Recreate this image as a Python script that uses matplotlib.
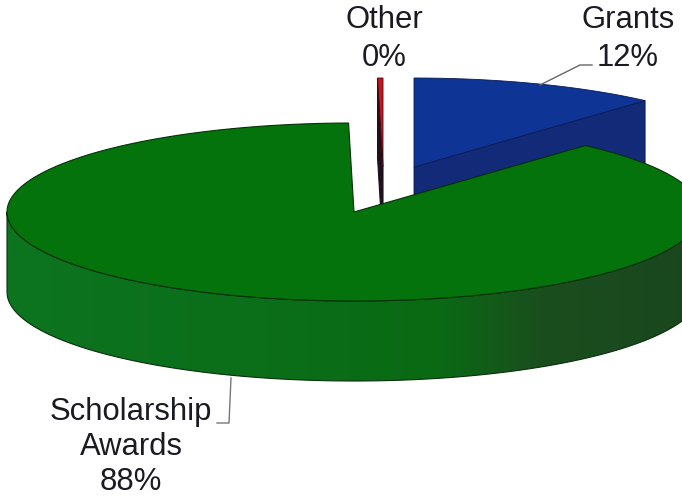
import numpy as np
import matplotlib
matplotlib.use("Agg")
import matplotlib.pyplot as plt
from matplotlib.patches import Polygon, PathPatch
from matplotlib.path import Path
from matplotlib.colors import LinearSegmentedColormap

# Data
categories = ["Grants", "Scholarship\nAwards", "Other"]
shares = [11.6, 88.15, 0.25]        # wedge sizes as drawn
pct_labels = ["12%", "88%", "0%"]   # printed labels

# Styles
top_colors = ["#0E3596", "#05730C", "#C8141E"]
cut_colors = ["#122A78", "#06600A", "#20101A"]
side_stops = [(0.0, "#0D7420"), (0.62, "#0A6A14"), (0.77, "#1A4E1E"), (1.0, "#1B461E")]
RX, RY, DEPTH = 347, 89, 80
centers = [(414, 167), (354, 212), (383, 167)]
START = 90

plt.rcParams["font.family"] = ["Liberation Sans", "DejaVu Sans"]
fig = plt.figure(figsize=(6.82, 4.97), dpi=100)
ax = fig.add_axes([0, 0, 1, 1])
ax.set_xlim(0, 682)
ax.set_ylim(497, 0)
ax.axis("off")

def arc(c, t0, t1, n=200, dy=0):
    t = np.radians(np.linspace(t0, t1, n))
    return np.column_stack([c[0] + RX * np.cos(t), c[1] - RY * np.sin(t) + dy])

# wedge angles, clockwise from the top
ends = START - np.cumsum(shares) * 3.6
starts = np.concatenate([[START], ends[:-1]])
angles = list(zip(starts, ends))

def cut_face(c, t):
    p = arc(c, t, t, 1)[0]
    return [c, tuple(p), (p[0], p[1] + DEPTH), (c[0], c[1] + DEPTH)]

# Grants
c, (a0, a1) = centers[0], angles[0]
ax.add_patch(Polygon(cut_face(c, a1), closed=True, fc=cut_colors[0], ec="#0A1A50", lw=0.6, zorder=2))
ax.add_patch(Polygon(np.vstack([[c], arc(c, a0, a1)]), closed=True, fc=top_colors[0], ec="#0A1A50", lw=0.6, zorder=3))
# Other
c, (a0, a1) = centers[2], angles[2]
ax.add_patch(Polygon(cut_face(c, a0), closed=True, fc=cut_colors[2], ec="#1A1020", lw=0.8, zorder=2))
ax.add_patch(Polygon(np.vstack([[c], arc(c, a0, a1, 10)]), closed=True, fc=top_colors[2],
                     ec="#3A0A14", lw=0.6, zorder=3))

# Scholarship side band with shading
c, (a0, a1) = centers[1], angles[1]
upper = arc(c, 180, 360)
lower = arc(c, 360, 180, dy=DEPTH)
band = Path(np.vstack([upper, lower, upper[:1]]), closed=True)
patch = PathPatch(band, fc="none", ec="#0A300C", lw=0.8, zorder=5)
ax.add_patch(patch)
cmap = LinearSegmentedColormap.from_list("side", side_stops)
im = ax.imshow(np.linspace(0, 1, 512)[None, :], cmap=cmap, aspect="auto",
               extent=(c[0] - RX, c[0] + RX, c[1] + RY + DEPTH + 5, c[1] - 5), zorder=4)
im.set_clip_path(patch)
ax.set_xlim(0, 682)
ax.set_ylim(497, 0)

# Scholarship top face
ax.add_patch(Polygon(np.vstack([[c], arc(c, a0, a1, 400)]), closed=True, fc=top_colors[1],
                     ec="#06300A", lw=0.8, zorder=6))

# Leaders
ax.plot([540, 580, 592], [85, 65, 65], color="#666666", lw=1.0, zorder=7)
ax.plot([231, 229, 217], [378, 423, 423], color="#777777", lw=1.0, zorder=7)

# Labels
fs = 22.3
top = dict(fontsize=fs, color="#1A1A22", ha="center", va="center", linespacing=1.32, zorder=8)
bot = dict(fontsize=fs, color="#1A1A22", ha="center", va="center", linespacing=1.22, zorder=8)
ax.text(628, 39, f"{categories[0]}\n{pct_labels[0]}", **top)
ax.text(131, 447, f"{categories[1]}\n{pct_labels[1]}", **bot)
ax.text(384, 39, f"{categories[2]}\n{pct_labels[2]}", **top)

fig.savefig("out.png", dpi=100)
